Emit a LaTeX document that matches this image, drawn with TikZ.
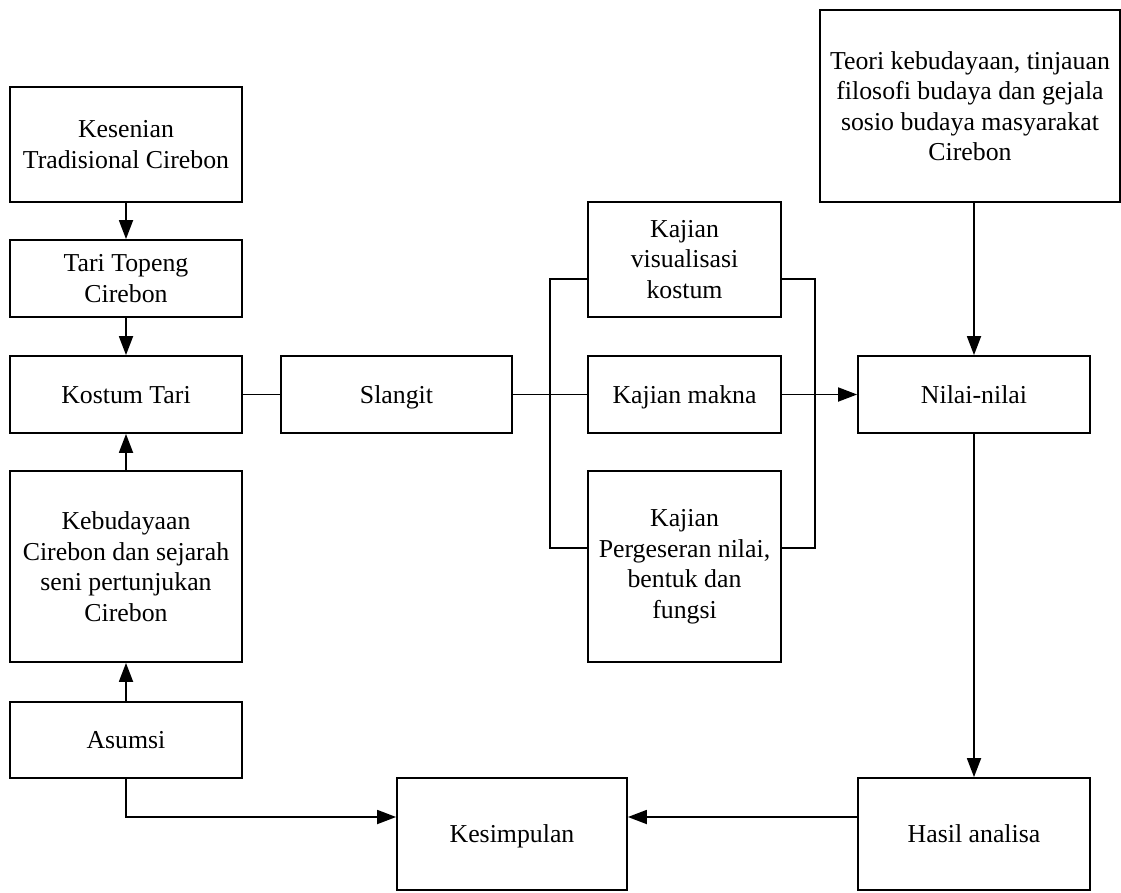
\documentclass[tikz,border=0pt]{standalone}
\usepackage{fontspec}
\setmainfont{Liberation Serif}
\usetikzlibrary{arrows.meta}

\begin{document}
\begin{tikzpicture}[x=1pt,y=-1pt,
  box/.style={draw, line width=1.8pt, align=center, inner sep=0pt,
    font=\fontsize{25.8}{30.5}\selectfont},
  oneline/.style={text depth=0pt},
  link/.style={line width=1.8pt},
  arr/.style={line width=1.8pt, -{Triangle[length=19pt,width=14pt]}}]
\useasboundingbox (0,0) rectangle (1121,893);

% left column
\node[box, minimum width=232pt, minimum height=115pt] (kes) at (126,144.5) {Kesenian\\Tradisional Cirebon};
\node[box, minimum width=232pt, minimum height=77pt] (tari) at (126,278.5) {Tari Topeng\\Cirebon};
\node[box, oneline, minimum width=232pt, minimum height=77pt] (kostum) at (126,394.5) {Kostum Tari};
\node[box, minimum width=232pt, minimum height=191pt] (budaya) at (126,566.5) {Kebudayaan\\Cirebon dan sejarah\\seni pertunjukan\\Cirebon};
\node[box, oneline, minimum width=232pt, minimum height=76pt] (asumsi) at (126,740) {Asumsi};

% middle
\node[box, oneline, minimum width=231pt, minimum height=77pt] (slangit) at (396.5,394.5) {Slangit};
\node[box, minimum width=193pt, minimum height=115pt] (kvis) at (684.5,259.5) {Kajian\\visualisasi\\kostum};
\node[box, oneline, minimum width=193pt, minimum height=77pt] (kmakna) at (684.5,394.5) {Kajian makna};
\node[box, minimum width=193pt, minimum height=191pt] (kperg) at (684.5,566.5) {Kajian\\Pergeseran nilai,\\bentuk dan\\fungsi};

% right column
\node[box, minimum width=300pt, minimum height=192pt] (teori) at (970,106) {Teori kebudayaan, tinjauan\\filosofi budaya dan gejala\\sosio budaya masyarakat\\Cirebon};
\node[box, oneline, minimum width=232pt, minimum height=77pt] (nilai) at (974,394.5) {Nilai-nilai};
\node[box, oneline, minimum width=232pt, minimum height=112pt] (hasil) at (974,834) {Hasil analisa};
\node[box, oneline, minimum width=230pt, minimum height=112pt] (kesim) at (512,834) {Kesimpulan};

% bracket corners and the bottom feed level
\coordinate (lt) at (550,279);
\coordinate (lb) at (550,548);
\coordinate (rt) at (815,279);
\coordinate (rb) at (815,548);
\coordinate (feed) at (0,817);

% connectors
\draw[arr] (kes.south) -- (tari.north);
\draw[arr] (tari.south) -- (kostum.north);
\draw[arr] (budaya.north) -- (kostum.south);
\draw[arr] (asumsi.north) -- (budaya.south);
\draw[link] (kostum.east) -- (slangit.west);
\draw[link] (slangit.east) -- (kmakna.west);
\draw[link] (lt -| kvis.west) -- (lt) -- (lb) -- (lb -| kperg.west);
\draw[link] (rt -| kvis.east) -- (rt) -- (rb) -- (rb -| kperg.east);
\draw[arr] (kmakna.east) -- (nilai.west);
\draw[arr] (nilai.north |- teori.south) -- (nilai.north);
\draw[arr] (nilai.south) -- (hasil.north);
\draw[arr] (hasil.west |- feed) -- (kesim.east |- feed);
\draw[arr] (asumsi.south) |- (kesim.west |- feed);
\end{tikzpicture}
\end{document}
